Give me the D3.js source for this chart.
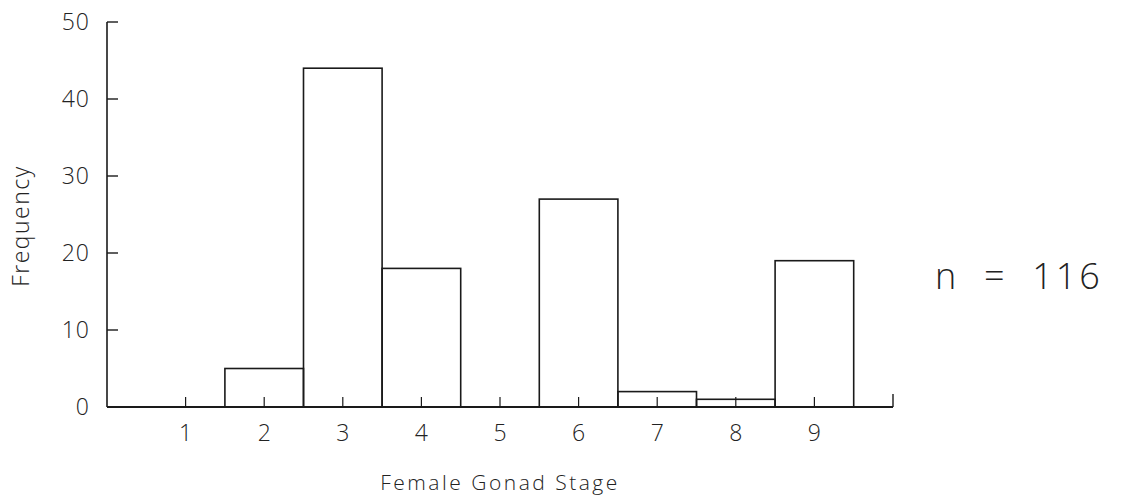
<!DOCTYPE html>
<html>
<head>
<meta charset="utf-8">
<script src="https://cdn.jsdelivr.net/npm/d3@7"></script>
<style>
  body { margin: 0; background: #fff; }
  text { font-family: "Open Sans", "DejaVu Sans", sans-serif; font-weight: 300; fill: #222; }
</style>
</head>
<body>
<script>
// female gonad stage histogram
var stages = [1, 2, 3, 4, 5, 6, 7, 8, 9];
var freq = [0, 5, 44, 18, 0, 27, 2, 1, 19];
var yTicks = [0, 10, 20, 30, 40, 50];
var nLabel = "n  =  116";

var W = 1134, H = 500;
var margin = { left: 107, top: 22, right: 241, bottom: 93 };

var svg = d3.select("body").append("svg")
    .attr("width", W)
    .attr("height", H);

var x = d3.scaleLinear()
    .domain([0, 10])
    .range([margin.left, W - margin.right]);
var y = d3.scaleLinear()
    .domain([0, 50])
    .range([H - margin.bottom, margin.top]);

var ink = "#1a1a1a";
var g = svg.append("g");

// bars
g.selectAll("rect.bar")
    .data(stages.filter((d, i) => freq[i] > 0))
    .enter()
    .append("rect")
    .attr("class", "bar")
    .attr("x", (d) => x(d - 0.5))
    .attr("y", (d) => y(freq[stages.indexOf(d)]))
    .attr("width", (d) => x(d + 0.5) - x(d - 0.5))
    .attr("height", (d) => y(0) - y(freq[stages.indexOf(d)]))
    .attr("fill", "none")
    .attr("stroke", ink)
    .attr("stroke-width", 1.6);

// y axis
g.append("line")
    .attr("x1", x(0)).attr("x2", x(0))
    .attr("y1", y(0)).attr("y2", y(50))
    .attr("stroke", ink).attr("stroke-width", 1.6);
g.selectAll("line.ytick")
    .data(yTicks)
    .enter()
    .append("line")
    .attr("class", "ytick")
    .attr("x1", x(0)).attr("x2", x(0) + 11)
    .attr("y1", (d) => y(d)).attr("y2", (d) => y(d))
    .attr("stroke", ink).attr("stroke-width", 1.4);
g.selectAll("text.ylab")
    .data(yTicks)
    .enter()
    .append("text")
    .attr("class", "ylab")
    .attr("x", x(0) - 17)
    .attr("y", (d) => y(d) + 8)
    .attr("text-anchor", "end")
    .attr("font-size", 23)
    .attr("letter-spacing", 1)
    .text((d) => d);

// x axis
g.append("line")
    .attr("x1", x(0)).attr("x2", x(10))
    .attr("y1", y(0)).attr("y2", y(0))
    .attr("stroke", ink).attr("stroke-width", 1.8);
g.selectAll("line.xtick")
    .data(stages)
    .enter()
    .append("line")
    .attr("class", "xtick")
    .attr("x1", (d) => x(d)).attr("x2", (d) => x(d))
    .attr("y1", y(0)).attr("y2", y(0) - 10)
    .attr("stroke", ink).attr("stroke-width", 1.2);
g.append("line")
    .attr("x1", x(10)).attr("x2", x(10))
    .attr("y1", y(0)).attr("y2", y(0) - 13)
    .attr("stroke", ink).attr("stroke-width", 1.4);
g.selectAll("text.xlab")
    .data(stages)
    .enter()
    .append("text")
    .attr("class", "xlab")
    .attr("x", (d) => x(d))
    .attr("y", y(0) + 34)
    .attr("text-anchor", "middle")
    .attr("font-size", 23)
    .text((d) => d);

// titles
svg.append("text")
    .attr("x", x(5))
    .attr("y", 490)
    .attr("text-anchor", "middle")
    .attr("font-size", 21)
    .attr("letter-spacing", 2.5)
    .text("Female Gonad Stage");
svg.append("text")
    .attr("transform", "translate(29," + y(23.5) + ") rotate(-90)")
    .attr("text-anchor", "middle")
    .attr("font-size", 23)
    .attr("letter-spacing", 1.5)
    .text("Frequency");

svg.append("text")
    .attr("x", 935)
    .attr("y", 289)
    .attr("font-size", 36)
    .attr("letter-spacing", 3)
    .attr("xml:space", "preserve")
    .style("white-space", "pre")
    .text(nLabel);
</script>
</body>
</html>
